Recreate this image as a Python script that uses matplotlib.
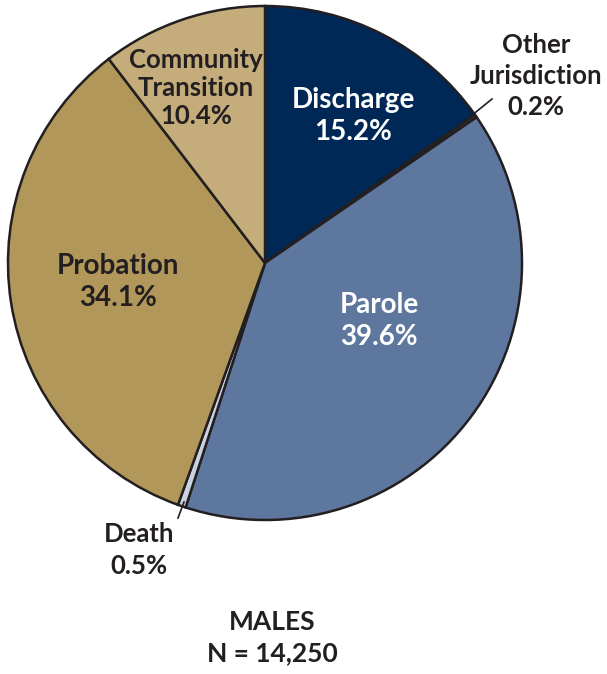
import matplotlib
matplotlib.use("Agg")
import matplotlib.pyplot as plt

categories = ["Discharge", "Other\nJurisdiction", "Parole", "Death", "Probation", "Community\nTransition"]
values = [15.2, 0.2, 39.6, 0.5, 34.1, 10.4]
colors = ["#002856", "#2b3a55", "#5e779f", "#c9d2e2", "#b1985a", "#c4ac7b"]
title_lines = ["MALES", "N = 14,250"]

W, H = 607, 674
fig = plt.figure(figsize=(W/100, H/100), dpi=100)
cx, cy, r = 265, 263, 257
ax = fig.add_axes([(cx - r)/W, (H - cy - r)/H, 2*r/W, 2*r/H])

wedges, _ = ax.pie(values, colors=colors, startangle=90, counterclock=False, radius=1,
                   wedgeprops=dict(edgecolor="#231f20", linewidth=1.8), center=(0, 0))
ax.set_xlim(-1, 1); ax.set_ylim(-1, 1)
ax.set_aspect("equal")
ax.axis("off")

FONT = "Lato"
def px(x, y):
    return ((x - cx)/r, (cy - y)/r)

def lab(x, y, s, color, size=20, ls=1.3):
    ax.text(*px(x, y), s, ha="center", va="center", color=color, fontsize=size,
            fontweight="bold", family=FONT, linespacing=ls, clip_on=False)

lab(353, 116, f"{categories[0]}\n{values[0]}%", "white")
lab(379, 321, f"{categories[2]}\n{values[2]}%", "white")
lab(118, 282, f"{categories[4]}\n{values[4]}%", "#231f20")
lab(196, 88, f"{categories[5]}\n{values[5]}%", "#231f20", size=18.5, ls=1.18)
lab(536, 76, f"{categories[1]}\n{values[1]}%", "#231f20", size=18.5, ls=1.35)
lab(139, 550, f"{categories[3]}\n{values[3]}%", "#231f20", size=18.5, ls=1.35)

# leader lines
ax.plot(*zip(px(471, 116), px(492, 99)), color="#231f20", lw=1.2, clip_on=False)
ax.plot(*zip(px(184, 502), px(178, 518)), color="#231f20", lw=1.2, clip_on=False)

fig.text(272/W, 1 - 638/H, "\n".join(title_lines), ha="center", va="center", fontsize=19,
         fontweight="bold", family=FONT, color="#231f20", linespacing=1.35)

fig.savefig("out.png", dpi=100, facecolor="white")
